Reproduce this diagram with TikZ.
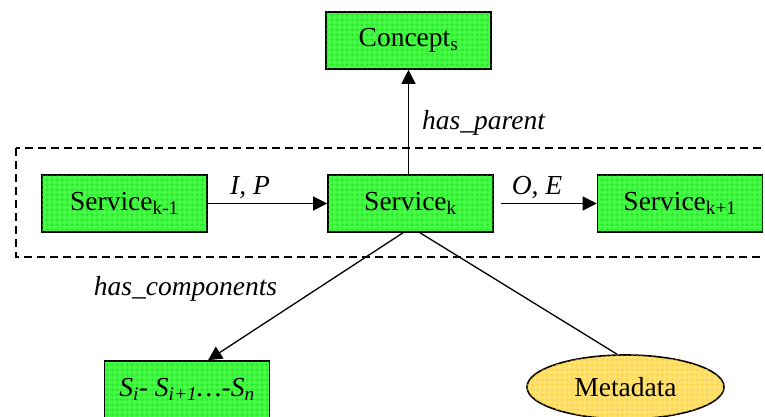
\documentclass[tikz,border=0pt]{standalone}
\usepackage{fontspec}
\setmainfont{Liberation Serif}
\usetikzlibrary{arrows.meta,shapes.geometric,patterns.meta}
\tikzdeclarepattern{name=mygrid, type=uncolored,
  bounding box={(0pt,0pt) and (5pt,5pt)}, tile size={(5pt,5pt)},
  code={\draw[line width=0.6pt] (0pt,2.5pt) -- (5pt,2.5pt) (2.5pt,0pt) -- (2.5pt,5pt);}}
\definecolor{boxgreen}{RGB}{70,252,70}
\definecolor{gridgreen}{RGB}{30,215,30}
\definecolor{ellyellow}{RGB}{255,226,115}
\definecolor{gridyellow}{RGB}{250,205,40}
\begin{document}
\begin{tikzpicture}[x=1pt,y=-1pt,
  txt/.style={font=\fontsize{27.5}{30}\selectfont},
  box/.style={txt, draw=black, line width=1.6pt, fill=boxgreen,
    postaction={pattern=mygrid, pattern color=gridgreen},
    minimum width=165pt, minimum height=57pt, inner sep=0pt},
  meta/.style={txt, ellipse, draw=black, line width=1.6pt, fill=ellyellow,
    postaction={pattern=mygrid, pattern color=gridyellow},
    minimum width=197pt, minimum height=64pt, inner sep=0pt},
  conn/.style={line width=1.3pt, -{Triangle[length=14pt,width=14pt]}},
  plain/.style={line width=1.3pt},
  lbl/.style={txt, font=\fontsize{27.5}{30}\selectfont\itshape, inner sep=0pt},
  frame/.style={line width=1.4pt, dash pattern=on 8pt off 5pt}]
\useasboundingbox (0,0) rectangle (765,417);
\draw[frame] (16,148) rectangle (780,257);
\node[box] (C) at (408.5,40.5) {Concept\textsubscript{s}};
\node[box] (S1) at (124.5,203.5) {Service\textsubscript{k-1}};
\node[box] (S2) at (410.5,203.5) {Service\textsubscript{k}};
\node[box] (S3) at (680,203.5) {Service\textsubscript{k+1}};
\node[box] (SC) at (187,389.5) {\itshape S\textsubscript{i}- S\textsubscript{i+1}…-S\textsubscript{n}};
\node[meta] (M) at (625.5,387) {Metadata};
\draw[conn] (S2.north -| C.south) -- (C.south);
\draw[conn] (S1.east) -- (S2.west);
\draw[conn, shorten <=7pt] (S2.east) -- (S3.west);
\draw[conn] ([xshift=-7.5pt]S2.south) -- ([xshift=21pt]SC.north);
\draw[plain] ([xshift=9.5pt]S2.south) -- ([xshift=-8.5pt]M.north);
\node[lbl, anchor=base west] (LP) at (422,129) {has\_parent};
\node[lbl, anchor=base] (LIP) at (250,194) {I, P};
\node[lbl, anchor=base] (LOE) at (537,194) {O, E};
\node[lbl, anchor=base] (LHC) at (185.5,295) {has\_components};
\end{tikzpicture}
\end{document}
